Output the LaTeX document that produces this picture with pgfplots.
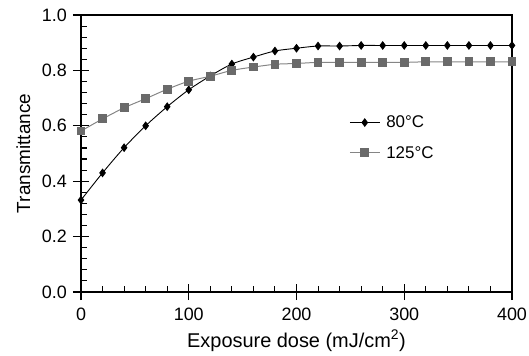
\documentclass[border=0pt]{standalone}
\usepackage{pgfplots}
\pgfplotsset{compat=1.18}
\usepackage{fontspec}
\setmainfont{Liberation Sans}

\definecolor{grayline}{HTML}{858585}
\definecolor{graymark}{HTML}{6A6A6A}

\newcommand{\tickfont}{\fontsize{18}{21}\selectfont}
\newcommand{\legendfont}{\fontsize{17}{20}\selectfont}

\begin{document}
\begin{tikzpicture}
\begin{axis}[
  scale only axis,
  width=431bp, height=277bp,
  xmin=0, xmax=400, ymin=0, ymax=1,
  xtick={0,100,...,400},
  ytick={0,0.2,...,1.0},
  minor x tick num=4,
  minor y tick num=4,
  tick align=inside,
  xtick pos=left, ytick pos=left,
  major tick length=8bp,
  minor tick length=5.5bp,
  % outer halves of the major ticks
  extra x ticks={0,100,200,300,400},
  extra x tick labels={},
  extra y ticks={0,0.2,0.4,0.6,0.8,1.0},
  extra y tick labels={},
  extra tick style={tick align=outside, major tick length=8bp},
  axis line style={line width=1.1pt},
  every tick/.style={black, line width=1.1pt},
  /pgf/number format/assume math mode=true,
  y tick label style={/pgf/number format/fixed,
    /pgf/number format/fixed zerofill, /pgf/number format/precision=1},
  ticklabel style={font=\tickfont, inner sep=0pt},
  xticklabel style={anchor=north, yshift=-16bp},
  yticklabel style={anchor=east, xshift=-14bp},
  xlabel={Exposure dose (mJ/cm\textsuperscript{2})},
  ylabel={Transmittance},
  xlabel style={font=\fontsize{20}{23}\selectfont,
    at={(axis description cs:0.5,-0.1986)}, anchor=base},
  ylabel style={font=\fontsize{19}{22}\selectfont,
    at={(axis description cs:-0.1183,0.5)}, anchor=base},
  legend style={draw=none, fill=none, at={(0.622,0.640)}, anchor=north west,
    font=\legendfont, row sep=15bp, column sep=5bp, inner sep=0pt,
    nodes={inner sep=1bp}},
  legend cell align=left,
  legend image code/.code={\draw[mark repeat=2,mark phase=2,#1]
    plot coordinates {(0bp,0bp) (15bp,0bp) (30bp,0bp)};},
]
\addplot[black, line width=0.9pt, smooth, mark=diamond*, mark size=3.7bp,
  mark options={solid, fill=black}]
  coordinates {
  (0,0.332) (20,0.430) (40,0.521) (60,0.600) (80,0.669) (100,0.730)
  (120,0.780) (140,0.823) (160,0.848) (180,0.870) (200,0.880) (220,0.888)
  (240,0.888) (260,0.890) (280,0.890) (300,0.890) (320,0.890) (340,0.890)
  (360,0.890) (380,0.890) (400,0.890)};
\addlegendentry{80°C}
\addplot[grayline, line width=1pt, smooth, mark=square*, mark size=3.9bp,
  mark options={solid, fill=graymark, draw=graymark}]
  coordinates {
  (0,0.581) (20,0.625) (40,0.665) (60,0.698) (80,0.732) (100,0.761)
  (120,0.779) (140,0.800) (160,0.812) (180,0.822) (200,0.825) (220,0.829)
  (240,0.829) (260,0.829) (280,0.829) (300,0.829) (320,0.831) (340,0.831)
  (360,0.831) (380,0.831) (400,0.831)};
\addlegendentry{125°C}
\end{axis}
% page frame around the axis and its labels
\useasboundingbox (-81bp,-64bp) rectangle (448bp,292bp);
\end{tikzpicture}
\end{document}
